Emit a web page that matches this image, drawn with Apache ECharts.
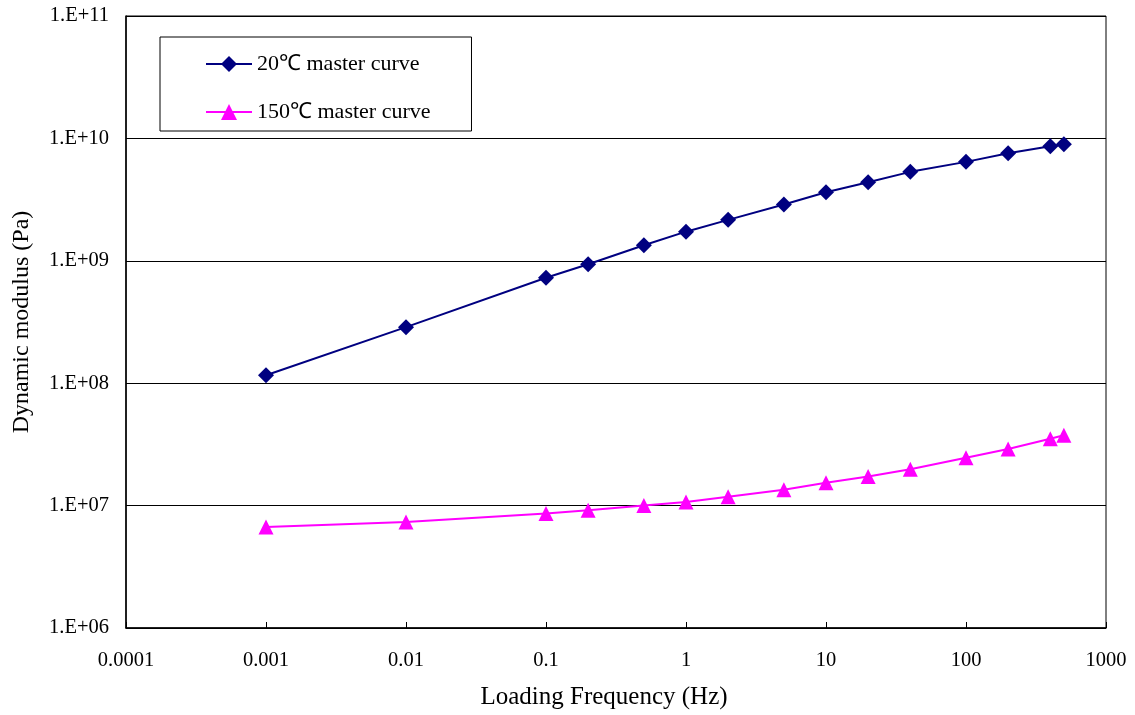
<!DOCTYPE html>
<html>
<head>
<meta charset="utf-8">
<script src="https://cdn.jsdelivr.net/npm/echarts@6/dist/echarts.min.js"></script>
<style>
html,body{margin:0;padding:0;background:#fff;}
#chart{width:1135px;height:715px;}
</style>
</head>
<body>
<div id="chart"></div>
<script>
// Loading frequency (Hz)
const frequencies = [0.001, 0.01, 0.1, 0.2, 0.5, 1, 2, 5, 10, 20, 40, 100, 200, 400, 500];
// Dynamic modulus (Pa), 20°C master curve
const modulus20 = [1.16e8, 2.87e8, 7.27e8, 9.38e8, 1.34e9, 1.73e9, 2.16e9, 2.88e9, 3.63e9, 4.38e9, 5.33e9, 6.43e9, 7.56e9, 8.62e9, 8.95e9];
// Dynamic modulus (Pa), 150°C master curve
const modulus150 = [6.69e6, 7.35e6, 8.6e6, 9.15e6, 1.0e7, 1.07e7, 1.18e7, 1.35e7, 1.54e7, 1.73e7, 1.98e7, 2.46e7, 2.9e7, 3.52e7, 3.75e7];
const seriesNames = ['20\u2103 master curve', '150\u2103 master curve'];
const xTickLabels = ['0.0001', '0.001', '0.01', '0.1', '1', '10', '100', '1000'];
const yTickLabels = ['1.E+06', '1.E+07', '1.E+08', '1.E+09', '1.E+10', '1.E+11'];
const xMinExp = -4, yMinExp = 6;

const font = "'Liberation Serif', 'Times New Roman', serif";
const chart = echarts.init(document.getElementById('chart'), null, {renderer: 'canvas'});
chart.setOption({
  backgroundColor: '#fff',
  animation: false,
  grid: {left: 126, right: 29, top: 16, bottom: 87, show: true, borderColor: '#000', borderWidth: 1},
  legend: {
    orient: 'vertical', left: 160, top: 37,
    padding: [16, 41, 8, 45],
    itemWidth: 46, itemHeight: 20, itemGap: 26,
    borderColor: '#000', borderWidth: 1, backgroundColor: '#fff',
    textStyle: {fontFamily: font, fontSize: 22, color: '#000'},
    data: seriesNames
  },
  xAxis: {
    type: 'log', logBase: 10, min: 0.0001, max: 1000, splitNumber: 7,
    name: 'Loading Frequency (Hz)', nameLocation: 'middle', nameGap: 57,
    nameTextStyle: {fontFamily: font, fontSize: 25, color: '#000', padding: [0, 24, 0, 0]},
    axisLine: {lineStyle: {color: '#000', width: 1.5}},
    axisTick: {inside: true, length: 6, lineStyle: {color: '#000'}},
    splitLine: {show: false},
    axisLabel: {
      fontFamily: font, fontSize: 20.5, color: '#000', margin: 22,
      formatter: v => xTickLabels[Math.round(Math.log10(v)) - xMinExp]
    }
  },
  yAxis: {
    type: 'log', logBase: 10, min: 1e6, max: 1e11, splitNumber: 5,
    name: 'Dynamic modulus (Pa)', nameLocation: 'middle', nameGap: 92,
    nameTextStyle: {fontFamily: font, fontSize: 24, color: '#000'},
    axisLine: {lineStyle: {color: '#000', width: 1.5}},
    axisTick: {show: false},
    splitLine: {show: true, lineStyle: {color: '#000', width: 1}},
    axisLabel: {
      fontFamily: font, fontSize: 20.5, color: '#000', margin: 17,
      formatter: v => yTickLabels[Math.round(Math.log10(v)) - yMinExp]
    }
  },
  series: [
    {
      name: seriesNames[0], type: 'line',
      data: frequencies.map((f, i) => [f, modulus20[i]]),
      symbol: 'diamond', symbolSize: 16,
      lineStyle: {color: '#000080', width: 2},
      itemStyle: {color: '#000080'}
    },
    {
      name: seriesNames[1], type: 'line',
      data: frequencies.map((f, i) => [f, modulus150[i]]),
      symbol: 'triangle', symbolSize: 15,
      lineStyle: {color: '#FF00FF', width: 2},
      itemStyle: {color: '#FF00FF'}
    }
  ]
});
</script>
</body>
</html>
